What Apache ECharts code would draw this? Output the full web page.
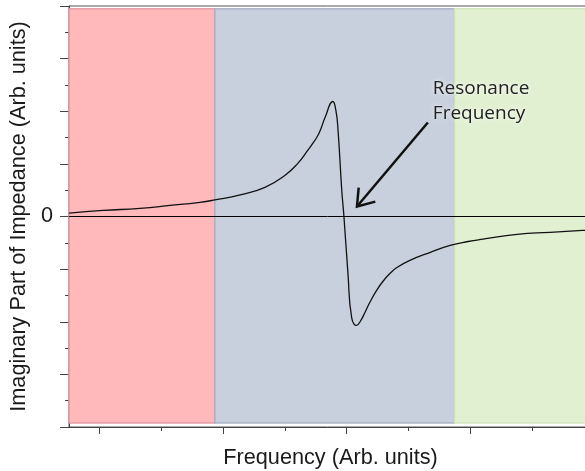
<!DOCTYPE html>
<html>
<head>
<meta charset="utf-8">
<script src="https://cdn.jsdelivr.net/npm/echarts@6/dist/echarts.min.js"></script>
<style>
  html, body { margin: 0; padding: 0; background: #fff; }
  #chart { width: 585px; height: 471px; }
</style>
</head>
<body>
<div id="chart"></div>
<script>
// frequency in tick units, impedance in minor-tick units
var freq = [-0.484, 0.065, 0.66, 1.15, 1.63, 1.87, 2.28, 2.68, 3.00, 3.21, 3.37, 3.44, 3.52, 3.58, 3.65,
  3.775, 3.825, 3.86, 3.92, 3.955, 4.02, 4.08, 4.16, 4.22, 4.30, 4.37, 4.48, 4.58, 4.70, 4.81, 5.02, 5.34,
  5.67, 5.96, 6.20, 6.75, 7.28, 7.81, 7.96];
var imagZ = [0.13, 0.23, 0.31, 0.42, 0.54, 0.63, 0.82, 1.11, 1.56, 2.02, 2.51, 2.74, 3.02, 3.32, 3.76,
  4.37, 4.03, 3.27, 0.99, 0, -2.17, -3.84, -4.14, -3.98, -3.62, -3.28, -2.82, -2.48, -2.16, -1.94, -1.67,
  -1.37, -1.10, -0.95, -0.86, -0.68, -0.60, -0.53, -0.51];

var regionEdges = [-0.484, 1.87, 5.74, 7.96];
var majorTicksX = [0, 2, 4, 6];
var minorTicksX = [1, 3, 5, 7];
var yLabels = ['0'];

var annotText = 'Resonance\nFrequency';
var annotAt = [5.39, 5.32];
var arrowFrom = [5.31, 3.57];
var arrowTo = [4.165, 0.38];

var regionColors = ['#ffb9bb', '#c8d0dd', '#e2f0d2'];
var regionBorders = ['rgba(225,150,160,0.9)', 'rgba(165,175,195,0.9)', 'rgba(205,228,185,0.9)'];

var myChart = echarts.init(document.getElementById('chart'));

var lineData = freq.map(function (f, i) { return [f, imagZ[i]]; });
var areas = [];
for (var i = 0; i < regionEdges.length - 1; i++) {
  areas.push([
    { xAxis: regionEdges[i], yAxis: -7.85,
      itemStyle: { color: regionColors[i], borderColor: regionBorders[i], borderWidth: 1.5 } },
    { xAxis: regionEdges[i + 1], yAxis: 7.9 }
  ]);
}

var fontFam = 'Liberation Sans, Arial, sans-serif';
var tickStyle = { color: '#444', width: 1 };

var option = {
  animation: false,
  grid: {
    left: 69, top: 6, width: 523, height: 421,
    outerBoundsMode: 'none',
    containLabel: false,
    show: true, borderColor: '#555', borderWidth: 1, backgroundColor: '#fff'
  },
  xAxis: [
    {
      type: 'value', position: 'bottom',
      min: regionEdges[0], max: regionEdges[regionEdges.length - 1],
      axisLine: { show: true, onZero: false, lineStyle: tickStyle },
      axisTick: { show: true, customValues: majorTicksX, length: 7, lineStyle: tickStyle },
      axisLabel: { show: false },
      splitLine: { show: false },
      name: 'Frequency (Arb. units)',
      nameLocation: 'middle',
      nameGap: 20,
      nameTextStyle: { fontFamily: fontFam, fontSize: 21.7, color: '#1a1a1a' }
    },
    {
      type: 'value', position: 'bottom',
      min: regionEdges[0], max: regionEdges[regionEdges.length - 1],
      axisLine: { show: false, onZero: false },
      axisTick: { show: true, customValues: minorTicksX, length: 4, lineStyle: tickStyle },
      axisLabel: { show: false },
      splitLine: { show: false }
    }
  ],
  yAxis: {
    type: 'value',
    min: -8, max: 8, interval: 2,
    axisLine: { show: true, onZero: false, lineStyle: tickStyle },
    axisTick: { show: true, length: 9, lineStyle: tickStyle },
    minorTick: { show: true, splitNumber: 2, length: 4, lineStyle: tickStyle },
    splitLine: { show: false },
    axisLabel: {
      margin: 16,
      fontFamily: fontFam, fontSize: 21.7, color: '#1a1a1a',
      formatter: function (v) { return yLabels.indexOf(String(v)) >= 0 ? String(v) : ''; }
    },
    name: 'Imaginary Part of Impedance (Arb. units)',
    nameLocation: 'middle',
    nameGap: 33,
    nameTextStyle: { fontFamily: fontFam, fontSize: 21.7, color: '#1a1a1a' }
  },
  series: [
    {
      type: 'line',
      data: lineData,
      showSymbol: false,
      smooth: 0.5,
      lineStyle: { color: '#111', width: 1.3 },
      markArea: { silent: true, data: areas },
      markLine: {
        silent: true, symbol: 'none',
        label: { show: false },
        lineStyle: { color: '#000', width: 1, type: 'solid' },
        data: [{ yAxis: 0 }]
      }
    }
  ]
};

myChart.setOption(option);

// annotation: text and open arrow placed in data units
var p0 = myChart.convertToPixel({ xAxisIndex: 0, yAxisIndex: 0 }, arrowFrom);
var p1 = myChart.convertToPixel({ xAxisIndex: 0, yAxisIndex: 0 }, arrowTo);
var pt = myChart.convertToPixel({ xAxisIndex: 0, yAxisIndex: 0 }, annotAt);
var dx = p0[0] - p1[0], dy = p0[1] - p1[1];
var len = Math.sqrt(dx * dx + dy * dy);
var ux = dx / len, uy = dy / len;
function wing(a) {
  var c = Math.cos(a), s = Math.sin(a);
  return [p1[0] + 19 * (ux * c - uy * s), p1[1] + 19 * (ux * s + uy * c)];
}
var ang = 35 * Math.PI / 180;

myChart.setOption({
  graphic: [
    {
      type: 'polyline', z: 100,
      shape: { points: [p0, p1] },
      style: { stroke: '#111', lineWidth: 2.5, fill: null }
    },
    {
      type: 'polyline', z: 100,
      shape: { points: [wing(ang), p1, wing(-ang)] },
      style: { stroke: '#111', lineWidth: 2.5, fill: null, lineJoin: 'miter' }
    },
    {
      type: 'text', z: 100,
      x: pt[0], y: pt[1],
      style: {
        text: annotText,
        font: '19px "Open Sans", sans-serif',
        lineHeight: 25,
        fill: '#222',
        textAlign: 'left', textVerticalAlign: 'top',
        textShadowColor: '#fff', textShadowBlur: 4
      }
    }
  ]
});
</script>
</body>
</html>
